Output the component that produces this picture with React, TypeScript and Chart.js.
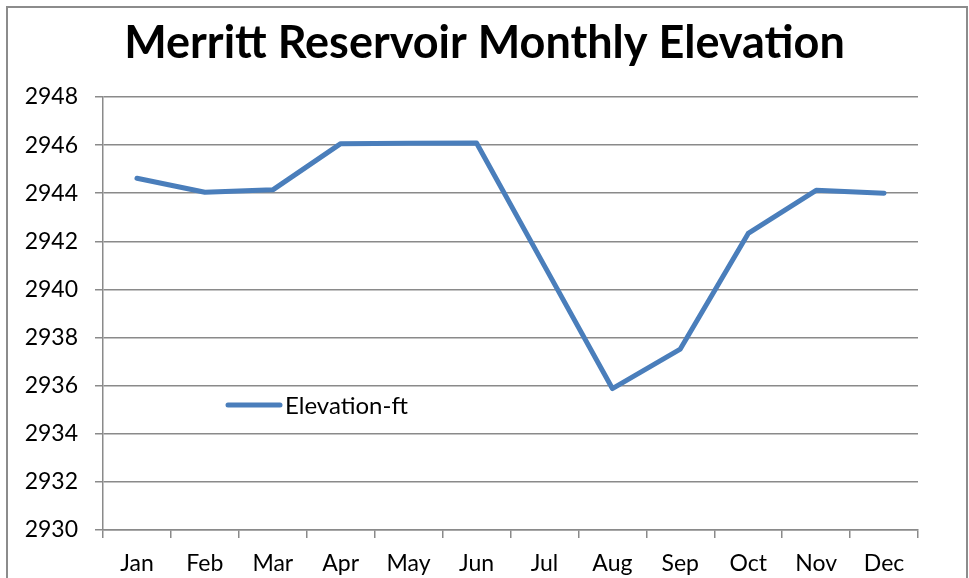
import React, { useEffect, useRef } from "react";
import { Chart, registerables } from "chart.js";

Chart.register(...registerables);

const months = ["Jan", "Feb", "Mar", "Apr", "May", "Jun", "Jul", "Aug", "Sep", "Oct", "Nov", "Dec"];
const elevationFt = [2944.62, 2944.04, 2944.14, 2946.06, 2946.08, 2946.09, 2940.98, 2935.88, 2937.52, 2942.33, 2944.12, 2944.0];
const seriesLabel = "Elevation-ft";
const chartTitle = "Merritt Reservoir Monthly Elevation";
const yMin = 2930;
const yMax = 2948;
const yStep = 2;

const LINE_COLOR = "#4A7EBB";
const GRID_COLOR = "#8a8a8a";
const FONT = "Lato, 'Open Sans', sans-serif";

const framePlugin = {
  id: "frame",
  beforeDraw(chart: any) {
    const ctx = chart.ctx;
    ctx.save();
    ctx.fillStyle = "#ffffff";
    ctx.fillRect(0, 0, chart.width, chart.height);
    ctx.strokeStyle = "#8c8c8c";
    ctx.lineWidth = 2;
    ctx.strokeRect(7, 7, 960, 620);
    ctx.restore();
  },
};

const innerLegendPlugin = {
  id: "innerLegend",
  afterDraw(chart: any) {
    const ctx = chart.ctx;
    const ds = chart.data.datasets[0];
    const y = 405;
    ctx.save();
    ctx.strokeStyle = ds.borderColor;
    ctx.lineWidth = 5;
    ctx.lineCap = "round";
    ctx.beginPath();
    ctx.moveTo(228, y);
    ctx.lineTo(280, y);
    ctx.stroke();
    ctx.fillStyle = "#000";
    ctx.font = `24px ${FONT}`;
    ctx.textBaseline = "middle";
    ctx.textAlign = "left";
    ctx.fillText(ds.label, 285, y + 1);
    ctx.restore();
  },
};

export default function App() {
  const ref = useRef<HTMLCanvasElement>(null);
  useEffect(() => {
    if (!ref.current) return;
    const chart = new Chart(ref.current, {
      type: "line",
      data: {
        labels: months,
        datasets: [
          {
            label: seriesLabel,
            data: elevationFt,
            borderColor: LINE_COLOR,
            backgroundColor: LINE_COLOR,
            borderWidth: 5,
            pointRadius: 0,
            tension: 0,
            borderJoinStyle: "round",
            borderCapStyle: "round",
          },
        ],
      },
      options: {
        responsive: false,
        animation: false,
        devicePixelRatio: 1,
        layout: { padding: { left: 0, right: 0, top: 0, bottom: 0 } },
        plugins: {
          legend: { display: false },
          tooltip: { enabled: false },
          title: {
            display: true,
            text: chartTitle,
            color: "#000",
            font: { family: FONT, size: 45, weight: "bold", lineHeight: 1.2 },
            padding: { top: 16, bottom: 27 },
          },
        },
        scales: {
          x: {
            type: "category",
            offset: true,
            grid: {
              offset: true,
              drawOnChartArea: false,
              drawTicks: true,
              tickLength: 8,
              color: GRID_COLOR,
              lineWidth: 1.5,
            },
            border: { display: true, color: GRID_COLOR, width: 1.5 },
            ticks: {
              color: "#000",
              font: { family: FONT, size: 23 },
              padding: 12,
              maxRotation: 0,
              autoSkip: false,
            },
            afterFit(scale: any) {
              scale.height = 48;
            },
          },
          y: {
            min: yMin,
            max: yMax,
            grid: {
              color: GRID_COLOR,
              lineWidth: 1.5,
              drawTicks: true,
              tickLength: 8,
            },
            border: { display: true, color: GRID_COLOR, width: 1.5 },
            ticks: {
              stepSize: yStep,
              color: "#000",
              font: { family: FONT, size: 23 },
              padding: 17,
              callback: (v: any) => String(v),
            },
            afterFit(scale: any) {
              scale.width = 103;
            },
          },
          yRightSpacer: {
            type: "linear",
            position: "right",
            display: true,
            min: yMin,
            max: yMax,
            grid: { display: false, drawOnChartArea: false },
            border: { display: false },
            ticks: { display: false },
            afterFit(scale: any) {
              scale.width = 51;
            },
          },
        },
      },
      plugins: [framePlugin, innerLegendPlugin],
    } as any);
    return () => chart.destroy();
  }, []);
  return (
    <div style={{ position: "fixed", left: 0, top: 0, width: 969, height: 578 }}>
      <canvas ref={ref} width={969} height={578} style={{ display: "block" }} />
    </div>
  );
}
